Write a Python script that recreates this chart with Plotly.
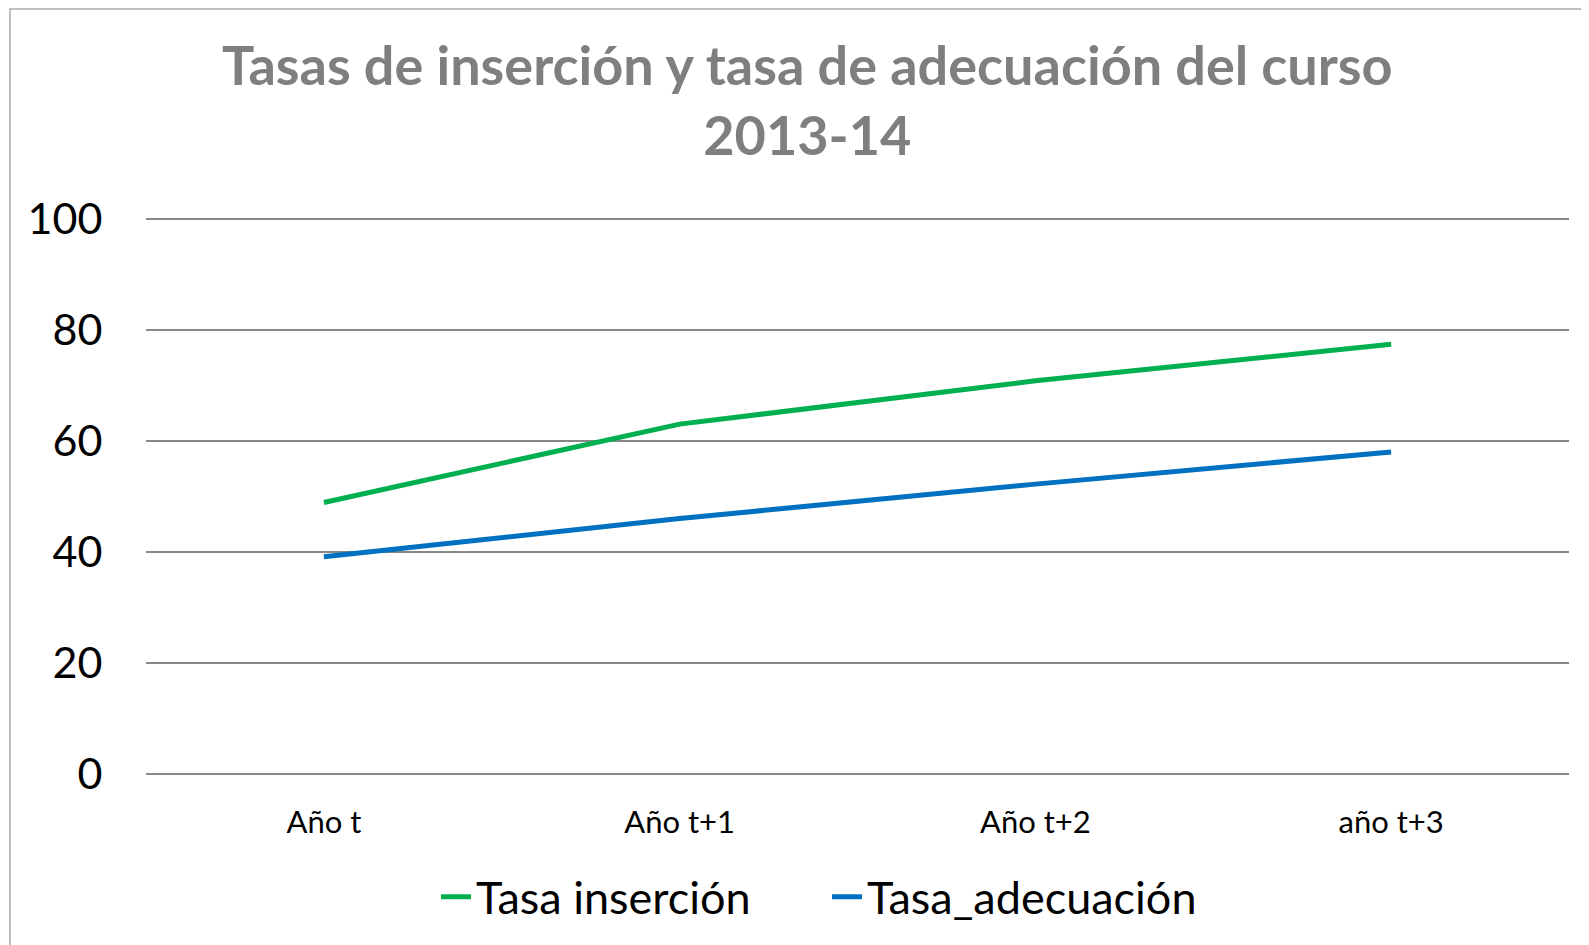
import plotly.graph_objects as go

categories = ["Año t", "Año t+1", "Año t+2", "año t+3"]
tasa_insercion = [48.9, 63.0, 70.8, 77.4]
tasa_adecuacion = [39.1, 46.0, 52.2, 58.0]
y_ticks = [0, 20, 40, 60, 80, 100]
title_text = "<b>Tasas de inserción y tasa de adecuación del curso<br>2013-14</b>"

FONT = "Lato"
OFF = 8  # default page body margin

W, H = 1581, 937
L, R, T, B = 146 - OFF, 20, 217 - OFF, 171
pw, ph = W - L - R, H - T - B

def px_x(p):
    return (p - OFF - L) / pw

def px_y(p):
    return (H - B - (p - OFF)) / ph

fig = go.Figure()
fig.add_trace(go.Scatter(x=categories, y=tasa_insercion, mode="lines", name="Tasa inserción",
                         line=dict(color="#00b050", width=5)))
fig.add_trace(go.Scatter(x=categories, y=tasa_adecuacion, mode="lines", name="Tasa_adecuación",
                         line=dict(color="#0070c0", width=5)))

fig.add_shape(type="rect", xref="paper", yref="paper",
              x0=px_x(10), x1=px_x(1640), y0=px_y(9), y1=px_y(1000),
              line=dict(color="#bfbfbf", width=2), fillcolor="rgba(0,0,0,0)", layer="below")

fig.add_annotation(text=title_text, xref="paper", yref="paper",
                   x=px_x(807), y=px_y(99), xanchor="center", yanchor="middle",
                   showarrow=False, align="center",
                   font=dict(family=FONT, size=54, color="#7f7f7f", weight=900))

fig.update_layout(
    width=W, height=H,
    margin=dict(l=L, r=R, t=T, b=B, autoexpand=False),
    paper_bgcolor="white", plot_bgcolor="white",
    font=dict(family=FONT, color="black"),
    showlegend=True,
    legend=dict(orientation="h", x=px_x(827), xanchor="center", xref="paper",
                y=px_y(897), yanchor="middle", font=dict(size=45, color="black"),
                entrywidth=346, entrywidthmode="pixels", tracegroupgap=0),
    xaxis=dict(type="category", range=[-0.5, 3.5], showgrid=False, showline=False,
               zeroline=False, ticks="outside", ticklen=21, tickcolor="rgba(0,0,0,0)",
               tickfont=dict(size=31, color="black")),
    yaxis=dict(range=[0, 100.3], tickvals=y_ticks, showgrid=True, gridcolor="#898989",
               gridwidth=1.5, zeroline=True, zerolinecolor="#898989", zerolinewidth=1.5,
               showline=False, ticks="outside", ticklen=34, tickcolor="rgba(0,0,0,0)",
               tickfont=dict(size=43, color="black")),
)

fig.write_html("out.html")
